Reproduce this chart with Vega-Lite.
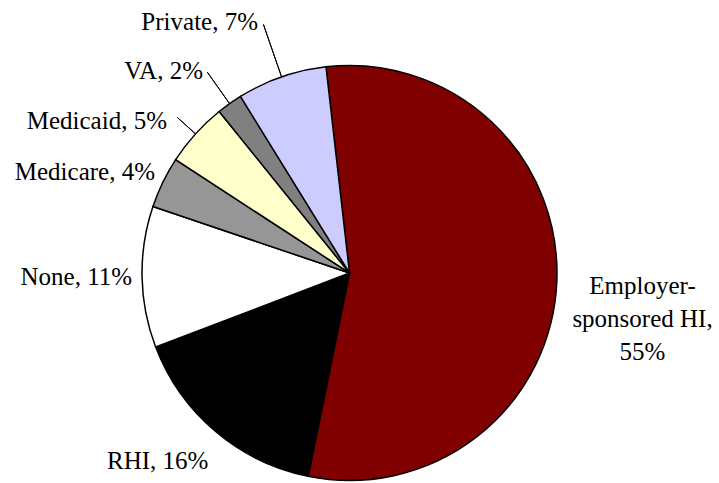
{
  "$schema": "https://vega.github.io/schema/vega-lite/v6.json",
  "width": 415,
  "height": 415,
  "autosize": "none",
  "padding": {"left": 142, "top": 65.5, "right": 162, "bottom": 2.5},
  "background": "white",
  "config": {"view": {"stroke": null}, "text": {"font": "Liberation Serif", "fontSize": 25, "color": "black"}},
  "data": {"values": [
    {"name": "Employer-sponsored HI", "value": 55, "order": 1, "label": "Employer-\nsponsored HI,\n55%"},
    {"name": "RHI", "value": 16, "order": 2, "label": "RHI, 16%"},
    {"name": "None", "value": 11, "order": 3, "label": "None, 11%"},
    {"name": "Medicare", "value": 4, "order": 4, "label": "Medicare, 4%"},
    {"name": "Medicaid", "value": 5, "order": 5, "label": "Medicaid, 5%"},
    {"name": "VA", "value": 2, "order": 6, "label": "VA, 2%"},
    {"name": "Private", "value": 7, "order": 7, "label": "Private, 7%"}
  ]},
  "transform": [
    {"stack": "value", "groupby": [], "sort": [{"field": "order", "order": "ascending"}], "as": ["v0", "v1"]},
    {"calculate": "(datum.v0 + datum.v1) / 2", "as": "mid"}
  ],
  "layer": [
    {
      "mark": {"type": "arc", "outerRadius": 207.5, "stroke": "black", "strokeWidth": 1.5},
      "encoding": {
        "theta": {"field": "v0", "type": "quantitative", "scale": {"domain": [0, 100], "range": [-0.11345, 6.16973]}},
        "theta2": {"field": "v1"},
        "color": {"field": "name", "type": "nominal", "legend": null,
          "scale": {"domain": ["Employer-sponsored HI", "RHI", "None", "Medicare", "Medicaid", "VA", "Private"],
                    "range": ["#800000", "#000000", "#FFFFFF", "#969696", "#FFFFCC", "#808080", "#CCCCFF"]}}
      }
    },
    {
      "transform": [{"filter": "datum.name === 'Employer-sponsored HI'"}],
      "mark": {"type": "text", "radius": 293.3, "align": "center", "baseline": "middle", "lineBreak": "\n", "lineHeight": 33},
      "encoding": {"theta": {"field": "mid", "type": "quantitative", "stack": null}, "text": {"field": "label"}}
    },
    {
      "transform": [{"filter": "datum.name === 'None'"}],
      "mark": {"type": "text", "radius": 217.5, "align": "right", "baseline": "middle"},
      "encoding": {"theta": {"field": "mid", "type": "quantitative", "stack": null}, "text": {"field": "label"}}
    },
    {
      "transform": [{"filter": "datum.name === 'Medicare'"}],
      "mark": {"type": "text", "radius": 216.2, "align": "right", "baseline": "middle", "dy": -7},
      "encoding": {"theta": {"field": "mid", "type": "quantitative", "stack": null}, "text": {"field": "label"}}
    },
    {
      "transform": [{"filter": "datum.name === 'RHI'"}],
      "mark": {"type": "text", "radius": 246, "align": "right", "baseline": "middle", "dx": 18},
      "encoding": {"theta": {"field": "mid", "type": "quantitative", "stack": null}, "text": {"field": "label"}}
    },
    {
      "transform": [{"filter": "datum.name === 'Medicaid'"}],
      "mark": {"type": "text", "radius": 246, "align": "right", "baseline": "middle", "dy": 13},
      "encoding": {"theta": {"field": "mid", "type": "quantitative", "stack": null}, "text": {"field": "label"}}
    },
    {
      "transform": [{"filter": "datum.name === 'VA'"}],
      "mark": {"type": "text", "radius": 253.5, "align": "right", "baseline": "middle", "dy": 5},
      "encoding": {"theta": {"field": "mid", "type": "quantitative", "stack": null}, "text": {"field": "label"}}
    },
    {
      "transform": [{"filter": "datum.name === 'Private'"}],
      "mark": {"type": "text", "radius": 279.6, "align": "right", "baseline": "middle", "dy": 13},
      "encoding": {"theta": {"field": "mid", "type": "quantitative", "stack": null}, "text": {"field": "label"}}
    },
    {
      "transform": [{"filter": "datum.name === 'Private'"}],
      "mark": {"type": "arc", "radius": 263, "radius2": 207.5, "stroke": "black", "strokeWidth": 1, "fill": "black"},
      "encoding": {"theta": {"field": "mid", "type": "quantitative"}, "theta2": {"field": "mid"}}
    },
    {
      "transform": [{"filter": "datum.name === 'VA'"}],
      "mark": {"type": "arc", "radius": 246, "radius2": 207.5, "stroke": "black", "strokeWidth": 1, "fill": "black"},
      "encoding": {"theta": {"field": "mid", "type": "quantitative"}, "theta2": {"field": "mid"}}
    },
    {
      "transform": [{"filter": "datum.name === 'Medicaid'"}],
      "mark": {"type": "arc", "radius": 232, "radius2": 207.5, "stroke": "black", "strokeWidth": 1, "fill": "black"},
      "encoding": {"theta": {"field": "mid", "type": "quantitative"}, "theta2": {"field": "mid"}}
    }
  ]
}
